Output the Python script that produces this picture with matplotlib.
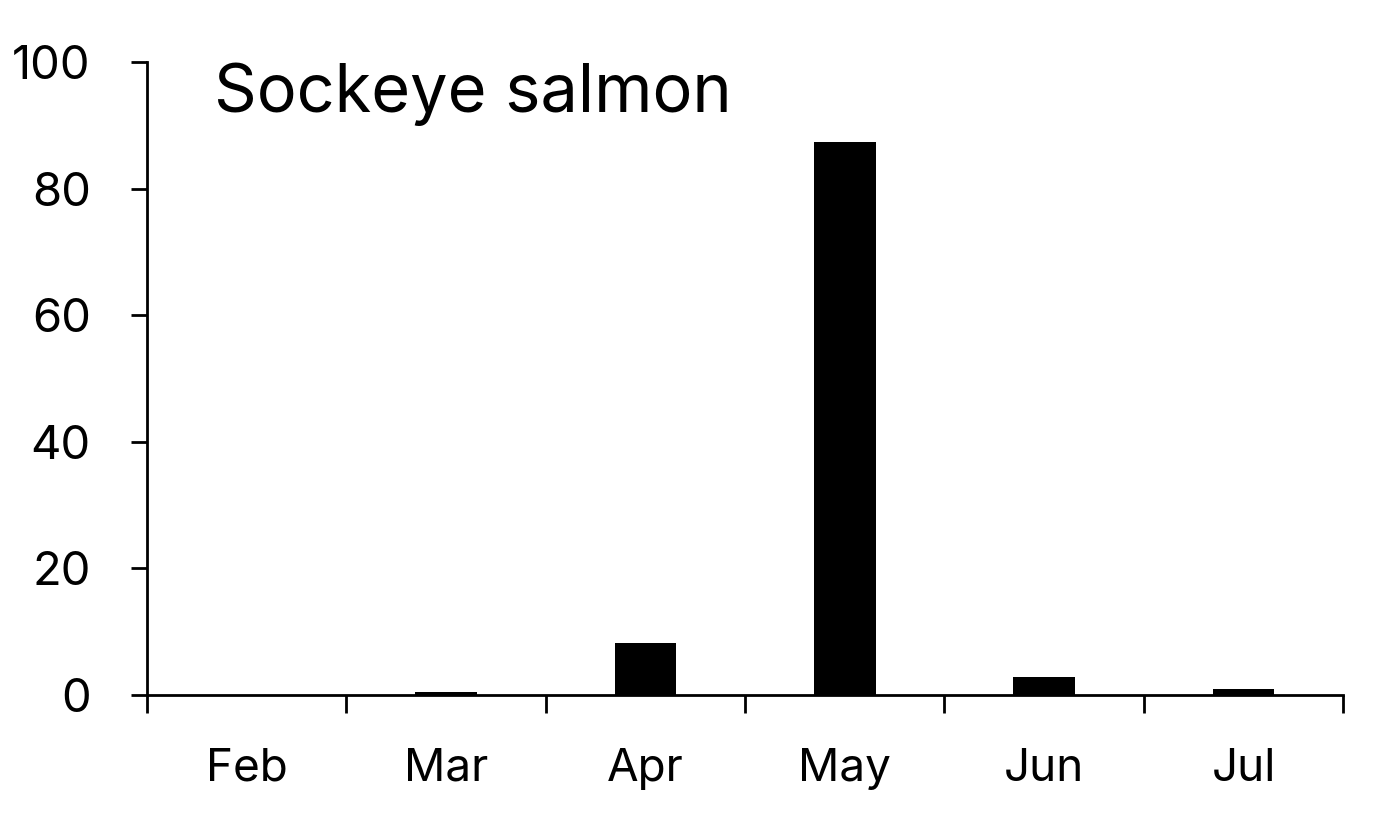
import matplotlib.pyplot as plt
import numpy as np

plt.rcParams['font.family'] = ['Inter', 'DejaVu Sans']

months = ['Feb', 'Mar', 'Apr', 'May', 'Jun', 'Jul']
values = [0.0, 0.5, 8.2, 87.4, 2.9, 1.0]
yticks = [0, 20, 40, 60, 80, 100]

fig = plt.figure(figsize=(13.78, 8.22), dpi=100)
ax = fig.add_axes([0.1067, 0.1545, 0.868, 0.770])

x = np.arange(len(months))
ax.bar(x, values, width=0.31, color='black')

ax.set_xlim(-0.5, len(months) - 0.5)
ax.set_ylim(0, 100)
ax.set_yticks(yticks)
ax.set_yticklabels([str(v) for v in yticks])

# ticks at category boundaries, labels at centres
ax.set_xticks(np.arange(-0.5, len(months), 1.0))
ax.set_xticklabels([])
ax.set_xticks(x, minor=True)
ax.set_xticklabels(months, minor=True)
ax.tick_params(axis='x', which='major', length=13, width=2, direction='out')
ax.tick_params(axis='x', which='minor', length=0, pad=38, labelsize=33)
ax.tick_params(axis='y', length=11.5, width=2, direction='out', pad=29, labelsize=34)

for side in ['top', 'right']:
    ax.spines[side].set_visible(False)
ax.spines['left'].set_linewidth(2)
ax.spines['bottom'].set_linewidth(2)

ax.text(0.056, 0.921, 'Sockeye salmon', transform=ax.transAxes,
        fontsize=48, ha='left', va='baseline')

fig.savefig('out.png', dpi=100)
